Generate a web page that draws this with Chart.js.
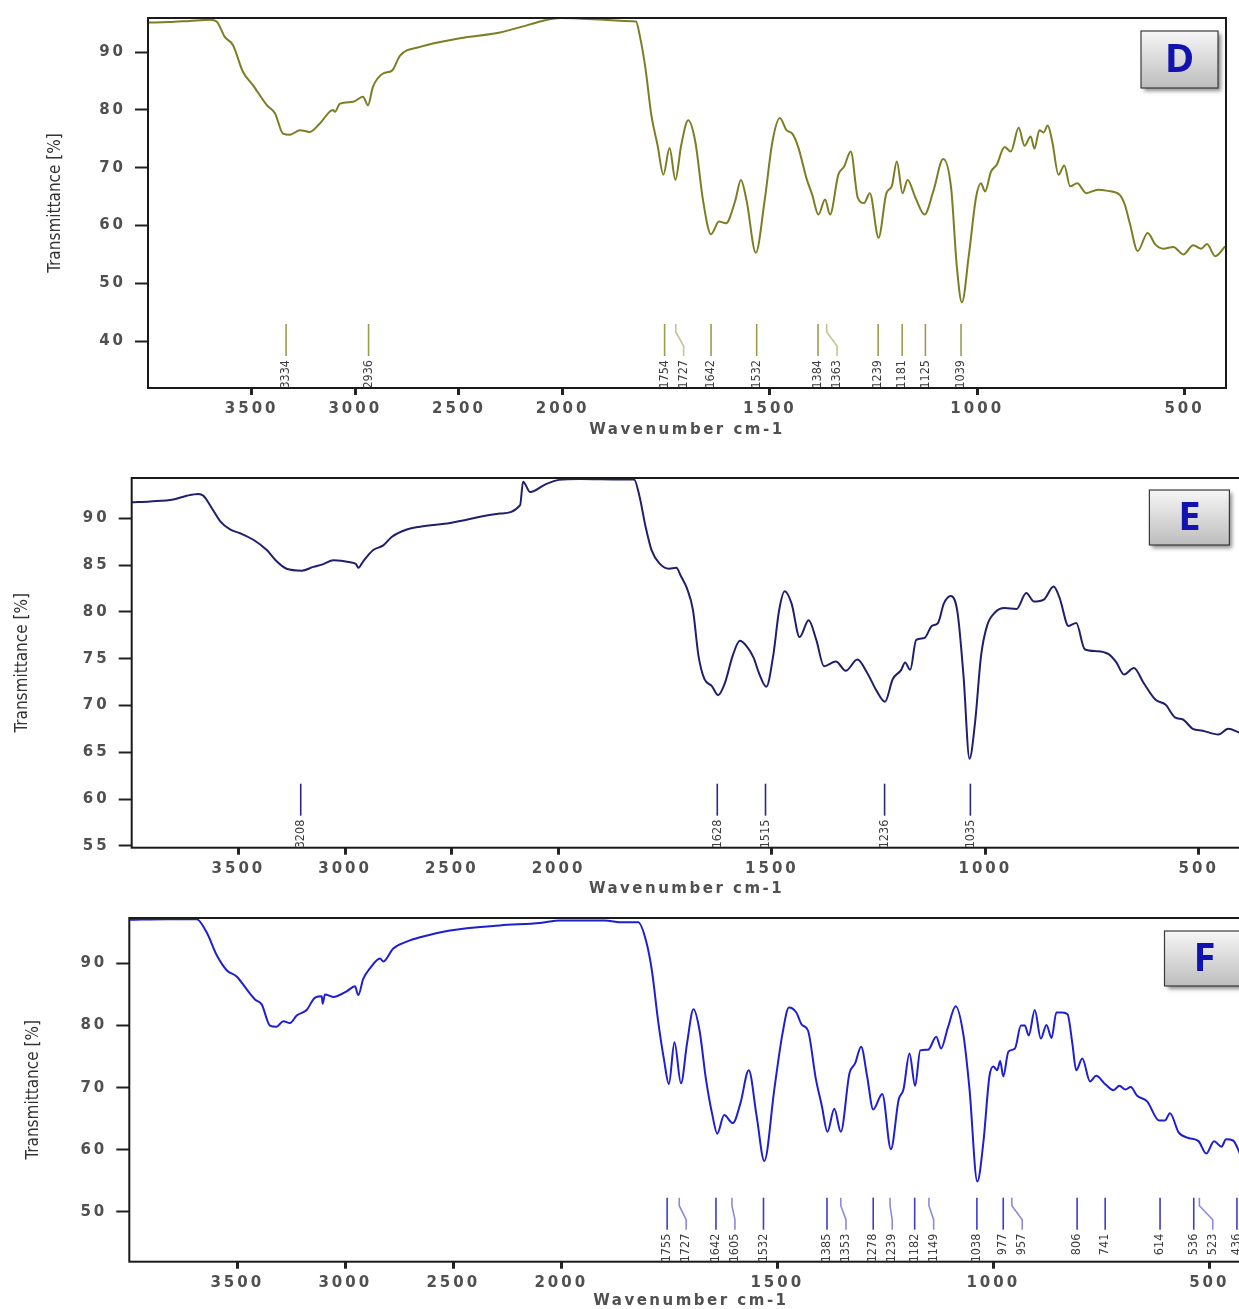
<!DOCTYPE html>
<html>
<head>
<meta charset="utf-8">
<title>FTIR spectra D, E, F</title>
<script src="https://cdn.jsdelivr.net/npm/chart.js@4.4.0/dist/chart.umd.min.js"></script>
<style>
  html, body { margin: 0; padding: 0; background: #fff; overflow: hidden; }
  body { width: 1239px; height: 1309px; position: relative; }
  canvas { position: absolute; left: 0; }
</style>
</head>
<body>
<canvas id="specD" width="1239" height="450" style="top:0"></canvas>
<canvas id="specE" width="1260" height="450" style="top:450px"></canvas>
<canvas id="specF" width="1260" height="420" style="top:900px"></canvas>
<script>
// x axis ticks (cm-1), shared by the three panels
const xTickValues = [3500, 3000, 2500, 2000, 1500, 1000, 500];

// Spectrum D
const dWave = [4000, 3900, 3800, 3700, 3669, 3629, 3590, 3542, 3494, 3426, 3387, 3349, 3315, 3267, 3219, 3170,
  3108, 3098, 3074, 3011, 2963, 2939, 2915, 2866, 2823, 2784, 2688, 2495, 2302, 2157, 2085, 2013, 1900, 1850,
  1823, 1814, 1800, 1786, 1771, 1757, 1742, 1728, 1714, 1697, 1680, 1661, 1642, 1623, 1606, 1584, 1570, 1556,
  1534, 1513, 1494, 1476, 1460, 1446, 1431, 1412, 1398, 1383, 1367, 1355, 1335, 1321, 1305, 1288, 1273, 1259,
  1238, 1219, 1206, 1194, 1180, 1168, 1149, 1127, 1106, 1082, 1063, 1049, 1037, 1020, 1003, 991, 981, 967, 953,
  934, 919, 900, 886, 871, 862, 850, 840, 830, 819, 804, 790, 776, 759, 737, 709, 685, 658, 644, 632, 613, 589,
  570, 551, 527, 503, 479, 460, 446, 426, 402];
const dTrans = [95.1, 95.2, 95.4, 95.6, 95.3, 92.6, 91.2, 86.6, 84.3, 80.8, 79.4, 75.9, 75.7, 76.5, 76.2, 77.7,
  80.0, 79.7, 81.1, 81.4, 82.3, 80.8, 84.0, 86.3, 86.8, 89.4, 90.9, 92.4, 93.4, 94.8, 95.5, 95.9, 95.6, 95.4,
  95.3, 92.9, 87.1, 79.1, 73.9, 68.8, 73.4, 67.9, 73.9, 78.2, 74.5, 64.2, 58.5, 60.7, 60.4, 64.2, 67.9, 64.2,
  55.3, 64.2, 74.5, 78.6, 76.5, 75.9, 73.4, 68.2, 65.3, 61.9, 64.5, 61.9, 68.8, 70.2, 72.8, 64.8, 63.9, 65.6,
  57.9, 65.6, 66.8, 71.1, 65.6, 67.9, 64.8, 61.9, 65.9, 71.5, 66.5, 52.7, 46.7, 55.0, 64.8, 67.3, 65.9, 69.3, 70.5,
  73.6, 72.8, 76.9, 73.8, 75.4, 73.3, 76.5, 76.1, 77.3, 74.5, 68.8, 70.4, 66.8, 67.3, 65.6, 66.2, 66.0, 65.4, 63.6, 60.4, 55.6, 58.7,
  56.7, 56.0, 56.3, 55.0, 56.6, 56.0, 56.8, 54.7, 56.4];
const dPeaks = [3334, 2936, 1754, 1727, 1642, 1532, 1384, 1363, 1239, 1181, 1125, 1039];
const dYTicks = [40, 50, 60, 70, 80, 90];

// Spectrum E
const eWave = [4000, 3914, 3805, 3742, 3688, 3664, 3625, 3586, 3539, 3492, 3430, 3367, 3321, 3274, 3203, 3149,
  3102, 3055, 2977, 2949, 2938, 2915, 2868, 2821, 2782, 2711, 2649, 2508, 2274, 2180, 2166, 2133, 2063, 1999, 1950,
  1851, 1823, 1810, 1796, 1782, 1764, 1741, 1724, 1713, 1699, 1685, 1672, 1658, 1641, 1626, 1610, 1592, 1575,
  1559, 1543, 1529, 1513, 1497, 1483, 1470, 1454, 1435, 1414, 1396, 1378, 1350, 1327, 1300, 1277, 1254, 1235,
  1217, 1197, 1188, 1176, 1162, 1143, 1125, 1111, 1097, 1081, 1065, 1051, 1037, 1024, 1010, 996, 978, 955, 927,
  904, 886, 863, 840, 826, 805, 787, 767, 739, 712, 693, 675, 652, 629, 601, 578, 555, 537, 514, 491, 454, 431, 404];
const eTrans = [91.7, 91.8, 92.0, 92.4, 92.6, 92.4, 91.1, 89.7, 88.8, 88.4, 87.7, 86.6, 85.4, 84.6, 84.4, 84.8,
  85.1, 85.5, 85.3, 85.1, 84.7, 85.4, 86.6, 87.1, 88.0, 88.8, 89.1, 89.5, 90.5, 91.4, 93.9, 92.8, 93.6, 94.1, 94.2,
  94.15, 94.15, 92.3, 89.1, 86.6, 85.2, 84.6, 84.7, 83.8, 82.5, 80.2, 75.3, 72.8, 72.1, 71.1, 72.4, 75.3, 76.9,
  76.3, 75.1, 73.3, 72.0, 75.3, 80.2, 82.2, 80.9, 77.3, 79.1, 77.0, 74.2, 74.7, 73.7, 74.9, 73.5, 71.5, 70.4,
  72.8, 73.8, 74.6, 73.8, 77.0, 77.2, 78.5, 78.8, 80.9, 81.7, 79.9, 73.1, 64.3, 68.2, 75.3, 78.5, 79.9, 80.4, 80.3,
  82.0, 81.1, 81.3, 82.7, 81.5, 78.5, 78.8, 76.0, 75.8, 75.5, 74.6, 73.3, 74.0, 72.4, 70.6, 70.1, 68.7, 68.5, 67.5, 67.3, 66.9, 67.5, 67.1];
const ePeaks = [3208, 1628, 1515, 1236, 1035];
const eYTicks = [55, 60, 65, 70, 75, 80, 85, 90];

// Spectrum F
const fWave = [4000, 3827, 3688, 3642, 3595, 3549, 3503, 3456, 3418, 3387, 3349, 3318, 3287, 3256, 3225, 3179,
  3140, 3109, 3105, 3094, 3056, 2994, 2955, 2940, 2917, 2886, 2839, 2824, 2778, 2716, 2654, 2515, 2284, 2098, 2005,
  1900, 1858, 1822, 1803, 1790, 1776, 1762, 1751, 1738, 1723, 1709, 1694, 1680, 1665, 1650, 1639, 1623, 1603,
  1585, 1566, 1548, 1530, 1507, 1488, 1473, 1456, 1443, 1429, 1411, 1397, 1384, 1368, 1353, 1333, 1320, 1306,
  1292, 1278, 1257, 1237, 1219, 1208, 1194, 1181, 1169, 1151, 1132, 1121, 1105, 1087, 1069, 1055, 1037, 1023,
  1009, 1000, 991, 984, 977, 965, 950, 936, 927, 918, 904, 890, 877, 865, 854, 840, 828, 817, 808, 794, 776, 762,
  740, 722, 708, 694, 682, 667, 644, 616, 603, 591, 571, 548, 525, 507, 489, 472, 461, 445, 427];
const fTrans = [97.0, 97.1, 97.1, 95.0, 91.3, 88.9, 87.9, 85.8, 84.2, 83.4, 80.0, 79.8, 80.7, 80.4, 81.6, 82.5,
  84.5, 84.7, 83.5, 85.0, 84.6, 85.5, 86.3, 84.9, 87.5, 89.2, 90.8, 90.3, 92.4, 93.5, 94.2, 95.3, 96.1, 96.5, 96.9,
  96.9, 96.6, 96.6, 93.4, 88.7, 80.8, 74.4, 70.6, 77.3, 70.7, 77.1, 82.6, 79.2, 71.3, 65.5, 62.6, 65.6, 64.3,
  67.6, 72.8, 65.5, 58.2, 69.7, 78.7, 82.9, 82.1, 80.1, 79.2, 71.5, 67.1, 62.9, 66.6, 62.9, 72.3, 73.9, 76.6,
  71.8, 66.5, 69.0, 60.1, 68.1, 69.7, 75.5, 70.3, 76.0, 76.1, 78.2, 76.3, 79.7, 83.1, 78.4, 69.7, 54.9, 61.2,
  71.8, 73.4, 72.8, 74.3, 71.8, 75.8, 76.3, 80.0, 80.0, 78.4, 82.5, 77.9, 80.1, 78.0, 82.1, 82.1, 81.8, 77.1, 72.8, 74.7, 71.0, 71.9,
  70.5, 69.6, 70.3, 69.7, 70.1, 68.7, 67.8, 64.7, 64.7, 65.9, 62.8, 61.9, 61.4, 59.4, 61.4, 60.5, 61.7, 61.5, 59.1];
const fPeaks = [1755, 1727, 1642, 1605, 1532, 1385, 1353, 1278, 1239, 1182, 1149, 1038, 977, 957, 806, 741, 614, 536, 523, 436];
const fYTicks = [50, 60, 70, 80, 90];

const TICK_FONT = { family: 'DejaVu Sans', size: 15, weight: 'bold' };
const NARROW = "'Liberation Sans Narrow', 'DejaVu Sans Condensed', sans-serif";

// OPUS style axis: scale is doubled below 2000 cm-1
const BREAK = 2000;
const fold = v => (v > BREAK ? BREAK + (v - BREAK) / 2 : v);
const unfold = f => (f > BREAK ? BREAK + (f - BREAK) * 2 : f);

function spaced(ctx, ls, fn) {
  ctx.save();
  ctx.letterSpacing = ls;
  fn();
  ctx.restore();
}

class FoldedScale extends Chart.LinearScale {
  getPixelForValue(value) {
    if (value === null || isNaN(value)) return NaN;
    const a = fold(this.min), b = fold(this.max);
    return this.getPixelForDecimal((fold(value) - a) / (b - a));
  }
  getValueForPixel(pixel) {
    const a = fold(this.min), b = fold(this.max);
    return unfold(a + this.getDecimalForPixel(pixel) * (b - a));
  }
  drawLabels(area) { spaced(this.ctx, '3px', () => super.drawLabels(area)); }
  drawTitle() { spaced(this.ctx, '2.5px', () => super.drawTitle()); }
}
FoldedScale.id = 'folded';

class SpacedLinear extends Chart.LinearScale {
  drawLabels(area) { spaced(this.ctx, '3px', () => super.drawLabels(area)); }
}
SpacedLinear.id = 'spacedLinear';

Chart.register(FoldedScale, SpacedLinear);

// black box round the plot
const frame = {
  id: 'frame',
  afterDatasetsDraw(chart) {
    const { ctx, chartArea: a } = chart;
    ctx.save();
    ctx.strokeStyle = '#1a1a1a';
    ctx.lineWidth = 2;
    ctx.strokeRect(a.left, a.top, a.right - a.left, a.bottom - a.top);
    ctx.restore();
  }
};

// peak ticks with rotated labels; close labels get pushed right with a kinked line
const peakMarks = {
  id: 'peakMarks',
  afterDatasetsDraw(chart, args, opts) {
    const { ctx, chartArea: area, scales: { x } } = chart;
    const b = area.bottom;
    let last = -Infinity;
    ctx.save();
    ctx.lineWidth = 1.6;
    ctx.font = '12.5px ' + NARROW;
    ctx.fillStyle = '#3d3d3d';
    ctx.textAlign = 'right';
    ctx.textBaseline = 'middle';
    opts.values.forEach(w => {
      const px = x.getPixelForValue(w);
      const lx = Math.max(px, last + 19);
      last = lx;
      ctx.strokeStyle = opts.color;
      ctx.globalAlpha = lx === px ? 1 : 0.6;
      ctx.beginPath();
      ctx.moveTo(px, b - 64);
      if (lx !== px) {
        ctx.lineTo(px, b - 56);
        ctx.lineTo(lx, b - 42);
      }
      ctx.lineTo(lx, b - 32);
      ctx.stroke();
      ctx.globalAlpha = 1;
      ctx.save();
      ctx.translate(lx, b - 28);
      ctx.rotate(-Math.PI / 2);
      ctx.fillText(String(w), 0, 0);
      ctx.restore();
    });
    ctx.restore();
  }
};

// grey sample letter box in the top right corner
const letterBox = {
  id: 'letterBox',
  afterDraw(chart, args, opts) {
    const { ctx, chartArea: a } = chart;
    const x = a.right - opts.right - opts.w, y = a.top + opts.top;
    ctx.save();
    const g = ctx.createLinearGradient(0, y, 0, y + opts.h);
    g.addColorStop(0, '#f6f6f6');
    g.addColorStop(1, '#bdbdbd');
    ctx.shadowColor = 'rgba(0,0,0,0.45)';
    ctx.shadowOffsetX = 3;
    ctx.shadowOffsetY = 3;
    ctx.shadowBlur = 4;
    ctx.fillStyle = g;
    ctx.fillRect(x, y, opts.w, opts.h);
    ctx.shadowColor = 'transparent';
    ctx.strokeStyle = '#3a3a3a';
    ctx.lineWidth = 1.2;
    ctx.strokeRect(x, y, opts.w, opts.h);
    ctx.fillStyle = '#1212b0';
    ctx.font = "bold 40px 'Open Sans', sans-serif";
    ctx.textAlign = 'center';
    ctx.textBaseline = 'middle';
    ctx.fillText(opts.text, x + opts.w / 2, y + opts.h / 2 + 1);
    ctx.restore();
  }
};

function makeSpectrum(id, c) {
  return new Chart(document.getElementById(id), {
    type: 'line',
    data: {
      datasets: [{
        data: c.wave.map((w, i) => ({ x: w, y: c.trans[i] })),
        borderColor: c.color,
        borderWidth: 2,
        pointRadius: 0,
        cubicInterpolationMode: 'monotone'
      }]
    },
    options: {
      responsive: false,
      animation: false,
      devicePixelRatio: 1,
      layout: { padding: { left: 0, top: c.padTop, right: c.padRight, bottom: 0 } },
      plugins: {
        legend: { display: false },
        tooltip: { enabled: false },
        peakMarks: { values: c.peaks, color: c.markColor },
        letterBox: c.box
      },
      scales: {
        x: {
          type: 'folded',
          min: 400,
          max: 4000,
          reverse: true,
          afterBuildTicks: s => { s.ticks = xTickValues.map(v => ({ value: v })); },
          afterFit: s => { s.height = c.xHeight; },
          grid: { drawOnChartArea: false, tickLength: 7, tickWidth: 3, tickColor: '#222' },
          border: { display: false },
          ticks: { color: '#505050', padding: 5, maxRotation: 0, autoSkip: false, font: TICK_FONT, callback: v => String(v) },
          title: {
            display: true,
            text: 'Wavenumber cm-1',
            color: '#505050',
            font: { family: 'DejaVu Sans', size: 15, weight: 'bold' },
            padding: { top: 0, bottom: c.xTitlePad }
          }
        },
        y: {
          type: 'spacedLinear',
          min: c.yMin,
          max: c.yMax,
          afterBuildTicks: s => { s.ticks = c.yTicks.map(v => ({ value: v })); },
          afterFit: s => { s.width = c.yWidth; },
          grid: { drawOnChartArea: false, tickLength: 13, tickWidth: 2, tickColor: '#222' },
          border: { display: false },
          ticks: { color: '#505050', padding: 9, font: TICK_FONT },
          title: {
            display: true,
            text: 'Transmittance [%]',
            color: '#333',
            font: { family: NARROW, size: 17 },
            padding: { top: c.yTitlePad, bottom: 0 }
          }
        }
      }
    },
    plugins: [frame, peakMarks, letterBox]
  });
}

makeSpectrum('specD', {
  wave: dWave, trans: dTrans, peaks: dPeaks, yTicks: dYTicks, yMin: 31.9, yMax: 95.9,
  color: '#7d7d24', markColor: '#9c9c4c',
  padTop: 16, padRight: 13, yWidth: 148, xHeight: 62, xTitlePad: 11, yTitlePad: 45,
  box: { text: 'D', w: 77, h: 57, right: 8, top: 13 }
});

makeSpectrum('specE', {
  wave: eWave, trans: eTrans, peaks: ePeaks, yTicks: eYTicks, yMin: 54.8, yMax: 94.3,
  color: '#1f1f6e', markColor: '#2a2a80',
  padTop: 28, padRight: 18.6, yWidth: 131.7, xHeight: 52.3, xTitlePad: 2, yTitlePad: 12,
  box: { text: 'E', w: 80, h: 55, right: 12, top: 12 }
});

makeSpectrum('specF', {
  wave: fWave, trans: fTrans, peaks: fPeaks, yTicks: fYTicks, yMin: 42.0, yMax: 97.3,
  color: '#1e1ed2', markColor: '#3c3cd0',
  padTop: 12.3, padRight: 7.5, yWidth: 129.3, xHeight: 58.3, xTitlePad: 10, yTitlePad: 23,
  box: { text: 'F', w: 80, h: 55, right: 8, top: 13 }
});
</script>
</body>
</html>
